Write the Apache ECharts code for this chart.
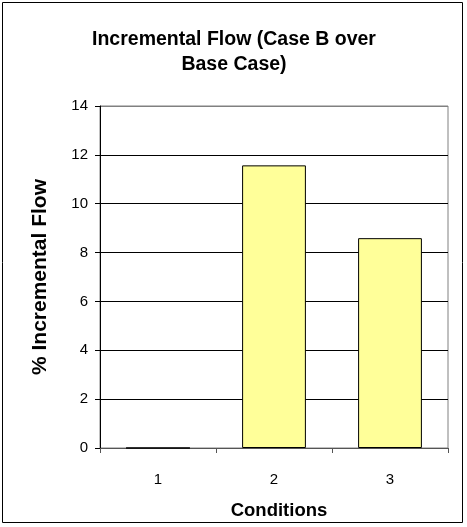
<!DOCTYPE html>
<html>
<head>
<meta charset="utf-8">
<script src="https://cdn.jsdelivr.net/npm/echarts@6/dist/echarts.min.js"></script>
<style>
  html, body { margin: 0; padding: 0; background: #fff; }
  #chart { width: 467px; height: 527px; }
</style>
</head>
<body>
<div id="chart"></div>
<script>
// Incremental flow per condition, in percent
const conditions = ['1', '2', '3'];
const incrementalFlow = [0, 11.57, 8.59];
const yTicks = { min: 0, max: 14, interval: 2 };

const font = 'Arial, "Liberation Sans", sans-serif';
const chart = echarts.init(document.getElementById('chart'), null, { renderer: 'canvas' });

chart.setOption({
  animation: false,
  title: {
    text: 'Incremental Flow (Case B over\nBase Case)',
    left: 229,
    top: 22,
    textAlign: 'center',
    textStyle: { fontFamily: font, fontSize: 19.5, fontWeight: 'bold', color: '#000', lineHeight: 25 }
  },
  graphic: [{
    type: 'rect',
    shape: { x: 2.5, y: 2.5, width: 460, height: 520 },
    style: { fill: 'none', stroke: '#000', lineWidth: 1 },
    silent: true,
    z: 100
  }],
  grid: {
    left: 100, right: 19, top: 106, bottom: 79,
    show: true, borderColor: '#808080', borderWidth: 1, backgroundColor: 'transparent'
  },
  xAxis: {
    type: 'category',
    data: conditions,
    name: 'Conditions',
    nameLocation: 'middle',
    nameGap: 53,
    nameTextStyle: { fontFamily: font, fontSize: 18.5, fontWeight: 'bold', color: '#000', padding: [0, 0, 0, 10] },
    axisLine: { lineStyle: { color: '#555', width: 1 } },
    axisTick: { show: true, alignWithLabel: false, length: 5, lineStyle: { color: '#555' } },
    axisLabel: { fontFamily: font, fontSize: 15, color: '#000', margin: 24 },
    splitLine: { show: false }
  },
  yAxis: {
    type: 'value',
    min: yTicks.min, max: yTicks.max, interval: yTicks.interval,
    name: '% Incremental Flow',
    nameLocation: 'middle',
    nameGap: 49,
    nameRotate: 90,
    nameTextStyle: { fontFamily: font, fontSize: 21, fontWeight: 'bold', color: '#000' },
    axisLine: { show: true, lineStyle: { color: '#000', width: 1 } },
    axisTick: { show: true, length: 5, lineStyle: { color: '#000' } },
    axisLabel: { fontFamily: font, fontSize: 15, color: '#000', margin: 12 },
    splitLine: {
      show: true,
      lineStyle: { color: ['#555', '#000', '#000', '#000', '#000', '#000', '#000', '#808080'], width: 1 }
    }
  },
  series: [{
    type: 'bar',
    data: incrementalFlow,
    barWidth: '55%',
    itemStyle: { color: '#FFFF99', borderColor: '#000', borderWidth: 1 }
  }]
});
</script>
</body>
</html>
